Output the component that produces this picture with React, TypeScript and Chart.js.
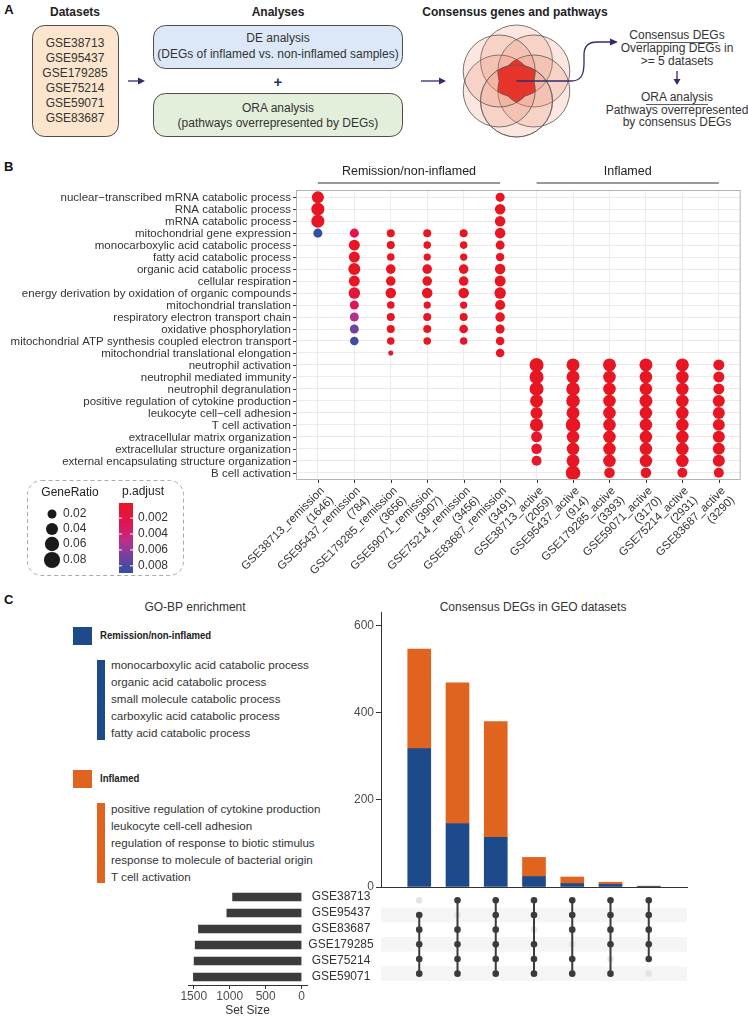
import React, { useEffect, useRef } from 'react';
import { Chart, registerables } from 'chart.js';

Chart.register(...registerables);

const FONT = '"Liberation Sans", Arial, Helvetica, sans-serif';
Chart.defaults.font.family = FONT;

// ---------------- Panel A ----------------
const DATASETS = ['GSE38713', 'GSE95437', 'GSE179285', 'GSE75214', 'GSE59071', 'GSE83687'];

// ---------------- Panel B ----------------
const TERMS = [
  'nuclear\u2212transcribed mRNA catabolic process',
  'RNA catabolic process',
  'mRNA catabolic process',
  'mitochondrial gene expression',
  'monocarboxylic acid catabolic process',
  'fatty acid catabolic process',
  'organic acid catabolic process',
  'cellular respiration',
  'energy derivation by oxidation of organic compounds',
  'mitochondrial translation',
  'respiratory electron transport chain',
  'oxidative phosphorylation',
  'mitochondrial ATP synthesis coupled electron transport',
  'mitochondrial translational elongation',
  'neutrophil activation',
  'neutrophil mediated immunity',
  'neutrophil degranulation',
  'positive regulation of cytokine production',
  'leukocyte cell\u2212cell adhesion',
  'T cell activation',
  'extracellular matrix organization',
  'extracellular structure organization',
  'external encapsulating structure organization',
  'B cell activation',
];

const SAMPLE_COLUMNS = [
  'GSE38713_remission', 'GSE95437_remission', 'GSE179285_remission', 'GSE59071_remission',
  'GSE75214_remission', 'GSE83687_remission', 'GSE38713_active', 'GSE95437_active',
  'GSE179285_active', 'GSE59071_active', 'GSE75214_active', 'GSE83687_active',
];
const SAMPLE_DEG_COUNTS = [1646, 784, 3656, 3907, 3456, 3491, 2059, 914, 3393, 3170, 2931, 3290];
const GROUP_LABELS = ['Remission/non-inflamed', 'Inflamed'];
const GROUP_SPANS = [[0, 5], [6, 11]];

// [term index, GeneRatio, p.adjust]
const DOTS_GSE38713_REMISSION = [[0, 0.040, 0.0001], [1, 0.048, 0.0001], [2, 0.048, 0.0001], [3, 0.020, 0.0088]];
const DOTS_GSE95437_REMISSION = [
  [3, 0.020, 0.0022], [4, 0.032, 0.0001], [5, 0.032, 0.0001], [6, 0.0395, 0.0001], [7, 0.032, 0.0001],
  [8, 0.036, 0.0012], [9, 0.020, 0.0030], [10, 0.020, 0.0050], [11, 0.020, 0.0068], [12, 0.018, 0.0085],
];
const DOTS_GSE179285_REMISSION = [
  [3, 0.015, 0.0001], [4, 0.015, 0.0001], [5, 0.013, 0.0001], [6, 0.023, 0.0001], [7, 0.023, 0.0001],
  [8, 0.029, 0.0001], [9, 0.013, 0.0001], [10, 0.015, 0.0001], [11, 0.015, 0.0001], [12, 0.013, 0.0001],
  [13, 0.006, 0.0015],
];
const DOTS_GSE59071_REMISSION = [
  [3, 0.015, 0.0001], [4, 0.013, 0.0001], [5, 0.012, 0.0001], [6, 0.023, 0.0001], [7, 0.023, 0.0001],
  [8, 0.029, 0.0001], [9, 0.012, 0.0001], [10, 0.015, 0.0001], [11, 0.015, 0.0001], [12, 0.013, 0.0001],
];
const DOTS_GSE75214_REMISSION = [
  [3, 0.015, 0.0001], [4, 0.013, 0.0001], [5, 0.012, 0.0001], [6, 0.023, 0.0001], [7, 0.023, 0.0001],
  [8, 0.029, 0.0001], [9, 0.012, 0.0001], [10, 0.015, 0.0001], [11, 0.018, 0.0001], [12, 0.013, 0.0001],
];
const DOTS_GSE83687_REMISSION = [
  [0, 0.020, 0.0001], [1, 0.029, 0.0001], [2, 0.029, 0.0001], [3, 0.029, 0.0001], [4, 0.020, 0.0001],
  [5, 0.017, 0.0001], [6, 0.029, 0.0001], [7, 0.032, 0.0001], [8, 0.036, 0.0001], [9, 0.026, 0.0001],
  [10, 0.023, 0.0001], [11, 0.020, 0.0001], [12, 0.018, 0.0001], [13, 0.018, 0.0001],
];
const DOTS_GSE38713_ACTIVE = [
  [14, 0.057, 0.0001], [15, 0.057, 0.0001], [16, 0.057, 0.0001], [17, 0.048, 0.0001], [18, 0.0395, 0.0001],
  [19, 0.050, 0.0001], [20, 0.032, 0.0008], [21, 0.029, 0.0008], [22, 0.0255, 0.0006],
];
const DOTS_GSE95437_ACTIVE = [
  [14, 0.048, 0.0001], [15, 0.048, 0.0001], [16, 0.053, 0.0001], [17, 0.053, 0.0001], [18, 0.048, 0.0001],
  [19, 0.063, 0.0001], [20, 0.044, 0.0001], [21, 0.044, 0.0001], [22, 0.048, 0.0001], [23, 0.063, 0.0001],
];
const DOTS_GSE179285_ACTIVE = [
  [14, 0.048, 0.0001], [15, 0.044, 0.0001], [16, 0.044, 0.0001], [17, 0.044, 0.0001], [18, 0.044, 0.0001],
  [19, 0.044, 0.0001], [20, 0.044, 0.0001], [21, 0.044, 0.0001], [22, 0.044, 0.0001], [23, 0.029, 0.0001],
];
const DOTS_GSE59071_ACTIVE = [
  [14, 0.048, 0.0001], [15, 0.044, 0.0001], [16, 0.044, 0.0001], [17, 0.048, 0.0001], [18, 0.044, 0.0001],
  [19, 0.044, 0.0001], [20, 0.044, 0.0001], [21, 0.044, 0.0001], [22, 0.044, 0.0001], [23, 0.029, 0.0001],
];
const DOTS_GSE75214_ACTIVE = [
  [14, 0.048, 0.0001], [15, 0.044, 0.0001], [16, 0.044, 0.0001], [17, 0.044, 0.0001], [18, 0.044, 0.0001],
  [19, 0.044, 0.0001], [20, 0.044, 0.0001], [21, 0.044, 0.0001], [22, 0.044, 0.0001], [23, 0.0255, 0.0001],
];
const DOTS_GSE83687_ACTIVE = [
  [14, 0.032, 0.0001], [15, 0.032, 0.0001], [16, 0.032, 0.0001], [17, 0.0395, 0.0001], [18, 0.0395, 0.0001],
  [19, 0.0395, 0.0001], [20, 0.0395, 0.0001], [21, 0.0395, 0.0001], [22, 0.0395, 0.0001], [23, 0.0255, 0.0001],
];
const DOTS_BY_COLUMN = [
  DOTS_GSE38713_REMISSION, DOTS_GSE95437_REMISSION, DOTS_GSE179285_REMISSION, DOTS_GSE59071_REMISSION,
  DOTS_GSE75214_REMISSION, DOTS_GSE83687_REMISSION, DOTS_GSE38713_ACTIVE, DOTS_GSE95437_ACTIVE,
  DOTS_GSE179285_ACTIVE, DOTS_GSE59071_ACTIVE, DOTS_GSE75214_ACTIVE, DOTS_GSE83687_ACTIVE,
];

const GENE_RATIO_BREAKS = [0.02, 0.04, 0.06, 0.08];
const P_ADJUST_BREAKS = [0.002, 0.004, 0.006, 0.008];
const P_ADJUST_LIMITS = [0.0001, 0.0089];

// ---------------- Panel C ----------------
const REMISSION_TERMS = [
  'monocarboxylic acid catabolic process',
  'organic acid catabolic process',
  'small molecule catabolic process',
  'carboxylic acid catabolic process',
  'fatty acid catabolic process',
];
const INFLAMED_TERMS = [
  'positive regulation of cytokine production',
  'leukocyte cell-cell adhesion',
  'regulation of response to biotic stimulus',
  'response to molecule of bacterial origin',
  'T cell activation',
];
const INTERSECTION_REMISSION = [318, 146, 114, 24, 8, 6, 1];
const INTERSECTION_INFLAMED = [229, 323, 266, 44, 15, 5, 1];
const COUNT_TICKS = [0, 200, 400, 600];
const SETS = ['GSE38713', 'GSE95437', 'GSE83687', 'GSE179285', 'GSE75214', 'GSE59071'];
const SET_SIZES = [960, 1040, 1435, 1480, 1495, 1505];
const SET_SIZE_TICKS = [0, 500, 1000, 1500];
const INTERSECTIONS = [
  ['GSE95437', 'GSE83687', 'GSE179285', 'GSE75214', 'GSE59071'],
  ['GSE38713', 'GSE83687', 'GSE179285', 'GSE75214', 'GSE59071'],
  ['GSE38713', 'GSE95437', 'GSE83687', 'GSE179285', 'GSE75214', 'GSE59071'],
  ['GSE38713', 'GSE95437', 'GSE179285', 'GSE75214', 'GSE59071'],
  ['GSE38713', 'GSE95437', 'GSE83687', 'GSE75214', 'GSE59071'],
  ['GSE38713', 'GSE95437', 'GSE83687', 'GSE179285', 'GSE59071'],
  ['GSE38713', 'GSE95437', 'GSE83687', 'GSE179285', 'GSE75214'],
];

const BLUE = '#1c4a8a';
const ORANGE = '#e0631f';
const DARK = '#3d3a3a';
const NAVY = '#2f2c6e';

function radiusFor(ratio: number) {
  return 1.5 + 7 * Math.sqrt(Math.max(ratio - 0.004, 0) / 0.086);
}

const COLOR_STOPS: [number, number[]][] = [
  [0, [232, 22, 34]],
  [0.3, [225, 20, 85]],
  [0.55, [182, 48, 140]],
  [0.78, [110, 66, 160]],
  [1, [48, 80, 164]],
];
function colorFor(p: number) {
  let t = (p - P_ADJUST_LIMITS[0]) / (P_ADJUST_LIMITS[1] - P_ADJUST_LIMITS[0]);
  t = Math.max(0, Math.min(1, t));
  for (let i = 0; i < COLOR_STOPS.length - 1; i++) {
    const [t0, c0] = COLOR_STOPS[i];
    const [t1, c1] = COLOR_STOPS[i + 1];
    if (t <= t1) {
      const f = (t - t0) / (t1 - t0);
      const c = c0.map((v, k) => Math.round(v + (c1[k] - v) * f));
      return `rgb(${c[0]},${c[1]},${c[2]})`;
    }
  }
  const c = COLOR_STOPS[COLOR_STOPS.length - 1][1];
  return `rgb(${c[0]},${c[1]},${c[2]})`;
}

// ---------------- Plugins ----------------
const panelBDecor = {
  id: 'panelBDecor',
  afterDraw(chart: any) {
    const { ctx } = chart;
    const { left, right, top, bottom } = chart.chartArea;
    const xs = chart.scales.x;
    const ys = chart.scales.y;
    ctx.save();
    ctx.strokeStyle = '#b3b3b3';
    ctx.lineWidth = 1;
    ctx.strokeRect(left + 0.5, top + 0.5, right - left - 1, bottom - top - 1);

    ctx.strokeStyle = '#333';
    ctx.fillStyle = '#333';
    ctx.font = `11.5px ${FONT}`;
    ctx.textAlign = 'right';
    ctx.textBaseline = 'middle';
    TERMS.forEach((t, i) => {
      const y = Math.round(ys.getPixelForValue(i + 1)) + 0.5;
      ctx.beginPath();
      ctx.moveTo(left - 3, y);
      ctx.lineTo(left, y);
      ctx.stroke();
      ctx.fillText(t, left - 5, y);
    });

    SAMPLE_COLUMNS.forEach((c, i) => {
      const x = Math.round(xs.getPixelForValue(i + 1)) + 0.5;
      ctx.beginPath();
      ctx.moveTo(x, bottom);
      ctx.lineTo(x, bottom + 3);
      ctx.stroke();
      ctx.save();
      ctx.translate(x, bottom + 5);
      ctx.rotate(-Math.PI / 4);
      ctx.textAlign = 'right';
      ctx.textBaseline = 'top';
      ctx.fillText(c, 0, 0);
      ctx.fillText(`(${SAMPLE_DEG_COUNTS[i]})`, 0, 13);
      ctx.restore();
    });

    // group headers
    GROUP_LABELS.forEach((g, k) => {
      const x1 = xs.getPixelForValue(GROUP_SPANS[k][0] + 1);
      const x2 = xs.getPixelForValue(GROUP_SPANS[k][1] + 1);
      ctx.fillStyle = '#222';
      ctx.font = `12.5px ${FONT}`;
      ctx.textAlign = 'center';
      ctx.textBaseline = 'middle';
      ctx.fillText(g, (x1 + x2) / 2, 12);
      ctx.strokeStyle = '#777';
      ctx.lineWidth = 1.4;
      ctx.beginPath();
      ctx.moveTo(x1, 23);
      ctx.lineTo(x2, 23);
      ctx.stroke();
    });

    // legend
    ctx.lineWidth = 1;
    ctx.strokeStyle = '#aaa';
    ctx.setLineDash([4, 3]);
    ctx.beginPath();
    (ctx as any).roundRect(27.5, 320.5, 156, 95, 14);
    ctx.stroke();
    ctx.setLineDash([]);
    ctx.fillStyle = '#222';
    ctx.font = `12px ${FONT}`;
    ctx.textAlign = 'center';
    ctx.textBaseline = 'middle';
    ctx.fillText('GeneRatio', 70, 333);
    ctx.fillText('p.adjust', 143, 332);
    const sizeY = [354, 369, 384, 400];
    GENE_RATIO_BREAKS.forEach((v, i) => {
      ctx.fillStyle = '#1a1a1a';
      ctx.beginPath();
      ctx.arc(52, sizeY[i], radiusFor(v), 0, Math.PI * 2);
      ctx.fill();
      ctx.fillStyle = '#333';
      ctx.textAlign = 'left';
      ctx.fillText(v.toFixed(2), 63, sizeY[i]);
    });
    const cbTop = 343;
    const cbH = 70;
    for (let k = 0; k < cbH; k++) {
      const p = P_ADJUST_LIMITS[0] + ((k + 0.5) / cbH) * (P_ADJUST_LIMITS[1] - P_ADJUST_LIMITS[0]);
      ctx.fillStyle = colorFor(p);
      ctx.fillRect(119, cbTop + k, 14, 1);
    }
    P_ADJUST_BREAKS.forEach((p) => {
      const y = cbTop + ((p - P_ADJUST_LIMITS[0]) / (P_ADJUST_LIMITS[1] - P_ADJUST_LIMITS[0])) * cbH;
      ctx.strokeStyle = '#fff';
      ctx.beginPath();
      ctx.moveTo(119, y); ctx.lineTo(122, y);
      ctx.moveTo(130, y); ctx.lineTo(133, y);
      ctx.stroke();
      ctx.fillStyle = '#333';
      ctx.textAlign = 'left';
      ctx.fillText(p.toFixed(3), 138, y);
    });
    ctx.restore();
  },
};

const matrixStripes = {
  id: 'matrixStripes',
  beforeDatasetsDraw(chart: any) {
    const { ctx } = chart;
    const { left, right } = chart.chartArea;
    const ys = chart.scales.y;
    ctx.save();
    ctx.fillStyle = '#f5f5f5';
    SETS.forEach((_, i) => {
      if (i % 2 === 1) {
        const a = ys.getPixelForValue(i + 0.5);
        const b = ys.getPixelForValue(i + 1.5);
        ctx.fillRect(left, Math.min(a, b), right - left, Math.abs(b - a));
      }
    });
    ctx.restore();
  },
};

const setLabels = {
  id: 'setLabels',
  afterDraw(chart: any) {
    const { ctx } = chart;
    const ys = chart.scales.y;
    ctx.save();
    ctx.fillStyle = '#333';
    ctx.font = `12px ${FONT}`;
    ctx.textAlign = 'center';
    ctx.textBaseline = 'middle';
    SETS.forEach((s, i) => ctx.fillText(s, 161, ys.getPixelForValue(i + 1)));
    ctx.restore();
  },
};

// ---------------- Components ----------------
function Txt({ x, y, children, size = 12, bold = false, align = 'left', color = '#333', style = {} }: any) {
  const lh = size * 1.2;
  const pos: any = align === 'center' ? { left: x - 200, width: 400, textAlign: 'center' } : { left: x };
  return (
    <div
      style={{
        position: 'absolute', top: y - lh / 2, lineHeight: `${lh}px`, fontSize: size,
        fontWeight: bold ? 700 : 400, color, whiteSpace: 'nowrap', fontFamily: FONT, ...pos, ...style,
      }}
    >
      {children}
    </div>
  );
}

function PanelA() {
  const cx = 516.5, cy = 81, R = 36, D = 20;
  const angles = [90, 30, -30, -90, -150, 150];
  const centers = angles.map((a) => [cx + D * Math.cos((a * Math.PI) / 180), cy - D * Math.sin((a * Math.PI) / 180)]);
  const pts: string[] = [];
  for (let k = 0; k < 180; k++) {
    const phi = (k / 180) * Math.PI * 2;
    let rho = 0;
    for (let s = 0; s < 40; s += 0.2) {
      const px = cx + s * Math.cos(phi), py = cy + s * Math.sin(phi);
      const n = centers.filter(([x, y]) => Math.hypot(px - x, py - y) <= R).length;
      if (n >= 5) rho = s; else break;
    }
    pts.push(`${(cx + rho * Math.cos(phi)).toFixed(1)},${(cy + rho * Math.sin(phi)).toFixed(1)}`);
  }
  const t = (x: number, y: number, s: string, o: any = {}) => (
    <text x={x} y={y} textAnchor="middle" dominantBaseline="central" fontSize={12} fill="#333" fontFamily={FONT} {...o}>{s}</text>
  );
  return (
    <svg width={748} height={160} style={{ position: 'absolute', left: 0, top: 0 }}>
      {t(9, 9, 'A', { fontWeight: 700, fontSize: 13, fill: '#111' })}
      {t(75, 12, 'Datasets', { fontWeight: 700, fill: '#222' })}
      <rect x={32.5} y={25.5} width={86} height={111} rx={12} fill="#fce5cd" stroke="#4d4d4d" strokeWidth={1} />
      {DATASETS.map((d, i) => t(75, 43 + i * 15, d, { key: d }))}
      <line x1={128} y1={81} x2={140} y2={81} stroke={NAVY} strokeWidth={1.3} />
      <polygon points="138,77.5 145,81 138,84.5" fill={NAVY} />
      {t(278, 12, 'Analyses', { fontWeight: 700, fill: '#222' })}
      <rect x={153.5} y={25.5} width={249} height={43} rx={12} fill="#dce8f8" stroke="#4d4d4d" strokeWidth={1} />
      {t(278, 38, 'DE analysis')}
      {t(278, 54, '(DEGs of inflamed vs. non-inflamed samples)')}
      {t(278, 81, '+', { fontWeight: 700, fontSize: 15, fill: NAVY })}
      <rect x={153.5} y={93.5} width={249} height={43} rx={12} fill="#e3efda" stroke="#4d4d4d" strokeWidth={1} />
      {t(278, 108, 'ORA analysis')}
      {t(278, 123, '(pathways overrepresented by DEGs)')}
      <line x1={421} y1={81} x2={440} y2={81} stroke={NAVY} strokeWidth={1.3} />
      <polygon points="439,77.5 446,81 439,84.5" fill={NAVY} />
      {t(515, 12, 'Consensus genes and pathways', { fontWeight: 700, fill: '#222' })}
      {centers.map(([x, y], i) => (
        <circle key={i} cx={x} cy={y} r={R} fill="rgba(236,128,100,0.2)" stroke="#555" strokeWidth={0.8} />
      ))}
      <polygon points={pts.join(' ')} fill="#e5342a" stroke="#555" strokeWidth={0.6} />
      <circle cx={centers[3][0]} cy={centers[3][1]} r={R} fill="none" stroke="#555" strokeWidth={0.6} />
      <path d="M516.5,81 L571,81 C581,81 584,75 584,63 L584,55 C584,46 588,42 597,42 L611,42" fill="none" stroke={NAVY} strokeWidth={1.3} />
      <polygon points="610,38.5 618,42 610,45.5" fill={NAVY} />
      {t(677, 35, 'Consensus DEGs')}
      <line x1={636} y1={42.5} x2={718} y2={42.5} stroke="#333" strokeWidth={0.8} />
      {t(677, 48, 'Overlapping DEGs in')}
      {t(677, 61, '>= 5 datasets')}
      <line x1={677} y1={71} x2={677} y2={79} stroke={NAVY} strokeWidth={1.3} />
      <polygon points="673.5,79 680.5,79 677,85" fill={NAVY} />
      {t(677, 97, 'ORA analysis')}
      <line x1={646} y1={104.5} x2={708} y2={104.5} stroke="#333" strokeWidth={0.8} />
      {t(677, 110, 'Pathways overrepresented')}
      {t(677, 122, 'by consensus DEGs')}
    </svg>
  );
}

export default function App() {
  const bRef = useRef<HTMLCanvasElement>(null);
  const c1Ref = useRef<HTMLCanvasElement>(null);
  const c2Ref = useRef<HTMLCanvasElement>(null);
  const c3Ref = useRef<HTMLCanvasElement>(null);

  useEffect(() => {
    const charts: Chart[] = [];

    const bubbles: any[] = [];
    DOTS_BY_COLUMN.forEach((col, c) =>
      col.forEach(([term, ratio, p]) => bubbles.push({ x: c + 1, y: term + 1, r: radiusFor(ratio), p })),
    );

    charts.push(
      new Chart(bRef.current!, {
        type: 'bubble',
        data: {
          datasets: [
            {
              data: bubbles,
              backgroundColor: (ctx: any) => colorFor(ctx.raw ? ctx.raw.p : 0),
              borderWidth: 0,
              hoverBorderWidth: 0,
            } as any,
          ],
        },
        options: {
          animation: false,
          responsive: false,
          events: [],
          layout: { padding: { top: 30, right: 4, left: 0, bottom: 0 } },
          plugins: { legend: { display: false }, tooltip: { enabled: false } },
          scales: {
            x: {
              type: 'linear', min: 0.4, max: 12.6,
              afterBuildTicks: (s: any) => { s.ticks = SAMPLE_COLUMNS.map((_, i) => ({ value: i + 1 })); },
              ticks: { display: false },
              grid: { color: '#ebebeb', lineWidth: 1, drawTicks: false },
              border: { display: false },
              afterFit: (s: any) => { s.height = 105; },
            },
            y: {
              type: 'linear', reverse: true, min: 0.4, max: 24.6,
              afterBuildTicks: (s: any) => { s.ticks = TERMS.map((_, i) => ({ value: i + 1 })); },
              ticks: { display: false },
              grid: { color: '#ebebeb', lineWidth: 1, drawTicks: false },
              border: { display: false },
              afterFit: (s: any) => { s.width = 296; },
            },
          },
        } as any,
        plugins: [panelBDecor],
      }),
    );

    charts.push(
      new Chart(c1Ref.current!, {
        type: 'bar',
        data: {
          datasets: [
            {
              label: 'Remission/non-inflamed',
              data: INTERSECTION_REMISSION.map((v, i) => ({ x: i + 1, y: v })),
              backgroundColor: BLUE, barThickness: 23, borderWidth: 0,
            },
            {
              label: 'Inflamed',
              data: INTERSECTION_INFLAMED.map((v, i) => ({ x: i + 1, y: v })),
              backgroundColor: ORANGE, barThickness: 23, borderWidth: 0,
            },
          ],
        },
        options: {
          animation: false,
          responsive: false,
          events: [],
          layout: { padding: { top: 17, right: 61, left: 0, bottom: 0 } },
          plugins: { legend: { display: false }, tooltip: { enabled: false } },
          scales: {
            x: {
              type: 'linear', min: 0, max: 8, stacked: true, offset: false,
              ticks: { display: false },
              grid: { display: false, offset: false },
              border: { display: true, color: '#333', width: 1 },
              afterFit: (s: any) => { s.height = 7; },
            },
            y: {
              stacked: true, min: 0, max: 632,
              afterBuildTicks: (s: any) => { s.ticks = COUNT_TICKS.map((v) => ({ value: v })); },
              ticks: { font: { size: 12, family: FONT, lineHeight: 1 }, color: '#4d4d4d', padding: 2 },
              grid: { drawOnChartArea: false, drawTicks: true, tickLength: 5, tickColor: '#333' },
              border: { display: true, color: '#333', width: 1 },
              afterFit: (s: any) => { s.width = 51; },
            },
          },
        } as any,
      }),
    );

    const filled: any[] = [];
    const empty: any[] = [];
    const lineSets: any[] = [];
    INTERSECTIONS.forEach((members, c) => {
      const idx = members.map((m) => SETS.indexOf(m));
      SETS.forEach((_, r) => (idx.includes(r) ? filled : empty).push({ x: c + 1, y: r + 1 }));
      lineSets.push({
        data: [{ x: c + 1, y: Math.min(...idx) + 1 }, { x: c + 1, y: Math.max(...idx) + 1 }],
        showLine: true, borderColor: DARK, borderWidth: 2, pointRadius: 0, order: 1,
      });
    });

    charts.push(
      new Chart(c2Ref.current!, {
        type: 'scatter',
        data: {
          datasets: [
            { data: filled, pointRadius: 3.3, backgroundColor: DARK, borderWidth: 0, order: 0 },
            ...lineSets,
            { data: empty, pointRadius: 3.3, backgroundColor: '#e4e4e4', borderWidth: 0, order: 2 },
          ],
        },
        options: {
          animation: false,
          responsive: false,
          events: [],
          layout: { padding: { top: 0, right: 61, left: 51, bottom: 0 } },
          plugins: { legend: { display: false }, tooltip: { enabled: false } },
          scales: {
            x: { type: 'linear', min: 0, max: 8, display: false },
            y: { type: 'linear', min: 0.5, max: 6.5, reverse: true, display: false },
          },
        } as any,
        plugins: [matrixStripes],
      }),
    );

    charts.push(
      new Chart(c3Ref.current!, {
        type: 'bar',
        data: {
          datasets: [
            {
              data: SET_SIZES.map((v, i) => ({ x: v, y: i + 1 })),
              backgroundColor: DARK, barThickness: 8, borderWidth: 0,
            },
          ],
        },
        options: {
          indexAxis: 'y',
          animation: false,
          responsive: false,
          events: [],
          layout: { padding: { top: 0, right: 74, left: 8, bottom: 0 } },
          plugins: { legend: { display: false }, tooltip: { enabled: false } },
          scales: {
            x: {
              type: 'linear', reverse: true, min: -75, max: 1580,
              afterBuildTicks: (s: any) => { s.ticks = SET_SIZE_TICKS.map((v) => ({ value: v })); },
              ticks: {
                font: { size: 12, family: FONT, lineHeight: 1 }, color: '#4d4d4d', padding: 2, maxRotation: 0,
                callback: (v: any) => String(v),
              },
              grid: { drawOnChartArea: false, drawTicks: true, tickLength: 4, tickColor: '#333' },
              border: { display: true, color: '#333', width: 1 },
              title: { display: true, text: 'Set Size', font: { size: 12, family: FONT, lineHeight: 1 }, color: '#333', padding: { top: 3, bottom: 0 } },
              afterFit: (s: any) => { s.height = 32; },
            },
            y: { type: 'linear', min: 0.5, max: 6.5, reverse: true, display: false, offset: false },
          },
        } as any,
        plugins: [setLabels],
      }),
    );

    return () => charts.forEach((c) => c.destroy());
  }, []);

  return (
    <div style={{ position: 'absolute', left: 0, top: 0, width: 748, height: 1017, overflow: 'hidden', background: '#fff', fontFamily: FONT }}>
      <PanelA />
      <Txt x={4} y={167} size={13} bold color="#111">B</Txt>
      <canvas ref={bRef} width={748} height={425} style={{ position: 'absolute', left: 0, top: 160, width: 748, height: 425 }} />

      <Txt x={4} y={600} size={13} bold color="#111">C</Txt>
      <Txt x={195} y={607} align="center">GO-BP enrichment</Txt>
      <div style={{ position: 'absolute', left: 73, top: 627, width: 19, height: 18, background: BLUE }} />
      <Txt x={100} y={636} size={11} bold color="#222" style={{ transform: 'scaleX(0.87)', transformOrigin: 'left center' }}>
        Remission/non-inflamed
      </Txt>
      <div style={{ position: 'absolute', left: 97, top: 660, width: 8, height: 80, background: BLUE }} />
      {REMISSION_TERMS.map((s, i) => (
        <Txt key={s} x={111} y={665 + i * 17} size={11.6}>{s}</Txt>
      ))}
      <div style={{ position: 'absolute', left: 73, top: 770, width: 19, height: 18, background: ORANGE }} />
      <Txt x={100} y={779} size={11} bold color="#222" style={{ transform: 'scaleX(0.87)', transformOrigin: 'left center' }}>
        Inflamed
      </Txt>
      <div style={{ position: 'absolute', left: 97, top: 803, width: 8, height: 80, background: ORANGE }} />
      {INFLAMED_TERMS.map((s, i) => (
        <Txt key={s} x={111} y={809 + i * 17} size={11.6}>{s}</Txt>
      ))}

      <Txt x={533} y={607} align="center">Consensus DEGs in GEO datasets</Txt>
      <canvas ref={c3Ref} width={201} height={128} style={{ position: 'absolute', left: 180, top: 889, width: 201, height: 128 }} />
      <canvas ref={c1Ref} width={418} height={300} style={{ position: 'absolute', left: 330, top: 595, width: 418, height: 300 }} />
      <canvas ref={c2Ref} width={418} height={96} style={{ position: 'absolute', left: 330, top: 889, width: 418, height: 96 }} />
    </div>
  );
}
